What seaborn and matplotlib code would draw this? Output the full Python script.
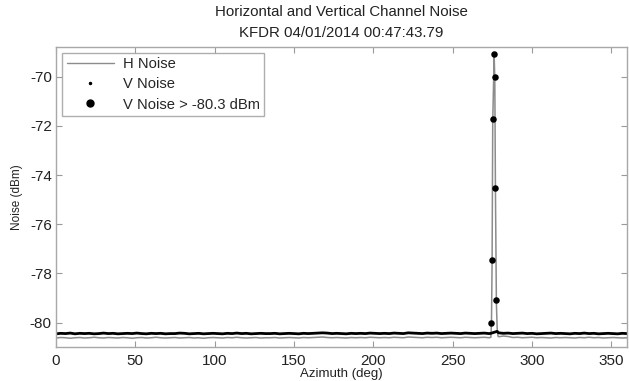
import numpy as np
import pandas as pd
import matplotlib
matplotlib.use("Agg")
import matplotlib.pyplot as plt
from matplotlib.lines import Line2D
import seaborn as sns

# ---------------- data ----------------
az_left = list(range(0, 274, 3))            # 0 .. 273
az_peak = [274.1, 274.5, 274.9, 275.3, 276.2, 276.6, 277.0, 277.6, 278.1, 278.6]
az_right = list(range(279, 361, 3))         # 279 .. 360

v_left = [-80.46, -80.44, -80.45, -80.43, -80.46, -80.44, -80.45, -80.44, -80.46, -80.45,
          -80.43, -80.45, -80.44, -80.46, -80.45, -80.44, -80.45, -80.43, -80.45, -80.46,
          -80.44, -80.45, -80.44, -80.46, -80.45, -80.45, -80.43, -80.44, -80.46, -80.45,
          -80.44, -80.46, -80.45, -80.44, -80.45, -80.46, -80.44, -80.45, -80.43, -80.45,
          -80.44, -80.46, -80.45, -80.44, -80.45, -80.45, -80.44, -80.46, -80.45, -80.44,
          -80.45, -80.46, -80.44, -80.45, -80.44, -80.43, -80.42, -80.43, -80.45, -80.44,
          -80.45, -80.46, -80.44, -80.45, -80.44, -80.45, -80.43, -80.44, -80.45, -80.44,
          -80.45, -80.43, -80.44, -80.45, -80.42, -80.43, -80.44, -80.45, -80.43, -80.44,
          -80.43, -80.45, -80.44, -80.43, -80.44, -80.45, -80.43, -80.44, -80.45, -80.44,
          -80.43, -80.45]
v_peak = [-80.44, -80.00, -77.44, -71.71, -69.07, -70.00, -74.54, -79.09, -80.36, -80.40]
v_right = [-80.42, -80.44, -80.43, -80.45, -80.44, -80.43, -80.45, -80.44, -80.46, -80.45,
           -80.44, -80.43, -80.45, -80.44, -80.45, -80.46, -80.44, -80.45, -80.43, -80.45,
           -80.44, -80.46, -80.45, -80.44, -80.45, -80.46, -80.44, -80.45]

h_left = [-80.63, -80.61, -80.62, -80.64, -80.62, -80.61, -80.63, -80.62, -80.60, -80.62,
          -80.63, -80.61, -80.62, -80.63, -80.61, -80.62, -80.64, -80.62, -80.61, -80.63,
          -80.62, -80.60, -80.62, -80.63, -80.62, -80.61, -80.63, -80.62, -80.61, -80.63,
          -80.62, -80.64, -80.62, -80.61, -80.62, -80.63, -80.61, -80.62, -80.60, -80.62,
          -80.63, -80.62, -80.61, -80.63, -80.62, -80.62, -80.61, -80.63, -80.62, -80.61,
          -80.62, -80.63, -80.61, -80.62, -80.61, -80.60, -80.59, -80.61, -80.62, -80.61,
          -80.62, -80.63, -80.61, -80.62, -80.61, -80.62, -80.60, -80.61, -80.62, -80.61,
          -80.62, -80.60, -80.61, -80.62, -80.59, -80.60, -80.61, -80.62, -80.60, -80.61,
          -80.60, -80.62, -80.61, -80.60, -80.61, -80.62, -80.60, -80.61, -80.62, -80.61,
          -80.60, -80.62]
h_peak = [-80.60, -80.05, -77.50, -71.80, -69.15, -70.10, -74.60, -79.20, -80.25, -80.55]
h_right = [-80.58, -80.55, -80.57, -80.61, -80.60, -80.62, -80.61, -80.60, -80.62, -80.61,
           -80.62, -80.63, -80.61, -80.62, -80.61, -80.62, -80.63, -80.61, -80.62, -80.60,
           -80.62, -80.61, -80.63, -80.62, -80.61, -80.62, -80.63, -80.62]

threshold = -80.3
x_ticks = [0, 50, 100, 150, 200, 250, 300, 350]
y_ticks = [-80, -78, -76, -74, -72, -70]

# ---------------- frame ----------------
df = pd.DataFrame({
    "az": az_left + az_peak + az_right,
    "V": v_left + v_peak + v_right,
    "H": h_left + h_peak + h_right,
})
df["V_base"] = df["V"].where(df["V"] <= threshold)
hi = df[df["V"] > threshold]

sns.set_theme(style="white")
plt.rcParams["font.family"] = ["Liberation Sans", "DejaVu Sans"]

fig = plt.figure(figsize=(6.29, 3.81), dpi=100)
ax = fig.add_axes([0.089, 0.089, 0.908, 0.788])

sns.lineplot(data=df, x="az", y="H", ax=ax, color="#8c8c8c", lw=1.1, estimator=None, sort=False)
sns.lineplot(data=df, x="az", y="V_base", ax=ax, color="black", lw=2.0, estimator=None, sort=False)
sns.scatterplot(data=df, x="az", y="V", ax=ax, color="black", s=2, marker=".", linewidth=0)
sns.scatterplot(data=hi, x="az", y="V", ax=ax, color="black", s=22, marker="o", linewidth=0, zorder=5)

ax.set_xlim(0, 360)
ax.set_ylim(-81.0, -68.78)
ax.set_xticks(x_ticks)
ax.set_yticks(y_ticks)
ax.set_xticklabels([str(t) for t in x_ticks], fontsize=11)
ax.set_yticklabels([str(t) for t in y_ticks], fontsize=11)
ax.tick_params(axis="x", pad=5)
ax.tick_params(axis="y", pad=3)
ax.tick_params(direction="in", length=4, width=0.8, color="#9a9a9a",
               top=True, right=True, bottom=True, left=True, labelcolor="#222222")
for sp in ax.spines.values():
    sp.set_color("#a8a8a8")
    sp.set_linewidth(1.0)

ax.set_xlabel("Azimuth (deg)", fontsize=9.5, labelpad=0, color="#222222")
ax.set_ylabel("Noise (dBm)", fontsize=8.5, labelpad=5, color="#222222")
ax.set_title("Horizontal and Vertical Channel Noise\nKFDR 04/01/2014 00:47:43.79",
             fontsize=10.8, pad=7, linespacing=1.65, color="#222222")

handles = [
    Line2D([0], [0], color="#8c8c8c", lw=1.0),
    Line2D([0], [0], color="black", lw=0, marker=".", markersize=3),
    Line2D([0], [0], color="black", lw=0, marker="o", markersize=5),
]
labels = ["H Noise", "V Noise", "V Noise > -80.3 dBm"]
leg = ax.legend(handles, labels, loc="upper left", bbox_to_anchor=(0.011, 0.98),
                fontsize=10.6, frameon=True, fancybox=False, handlelength=3.2,
                handletextpad=0.6, borderpad=0.3, labelspacing=0.42, borderaxespad=0)
leg.get_frame().set_edgecolor("#9a9a9a")
leg.get_frame().set_linewidth(1.0)

fig.savefig("out.png", dpi=100)
